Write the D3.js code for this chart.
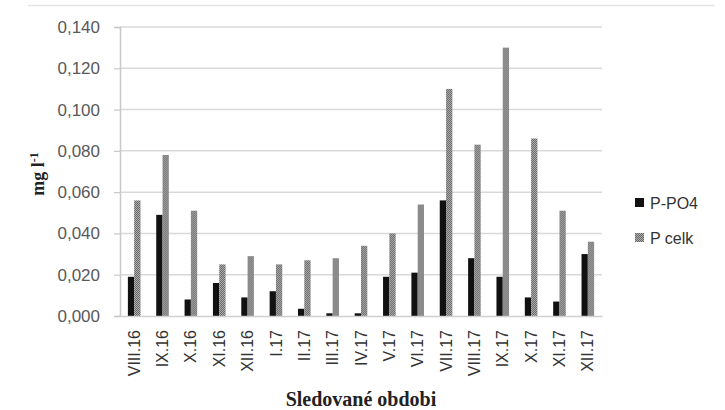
<!DOCTYPE html>
<html>
<head>
<meta charset="utf-8">
<script src="https://cdn.jsdelivr.net/npm/d3@7/dist/d3.min.js"></script>
<style>
  html, body { margin: 0; padding: 0; background: #fff; }
  svg { display: block; }
</style>
</head>
<body>
<svg id="chart" width="725" height="410"></svg>
<script>
// Monitored periods (months)
const categories = ["VIII.16","IX.16","X.16","XI.16","XII.16","I.17","II.17","III.17","IV.17","V.17","VI.17","VII.17","VIII.17","IX.17","X.17","XI.17","XII.17"];
// Phosphate phosphorus, mg/l
const pPO4 = [0.019,0.049,0.008,0.016,0.009,0.012,0.0035,0.0013,0.0013,0.019,0.021,0.056,0.028,0.019,0.009,0.007,0.030];
// Total phosphorus, mg/l
const pCelk = [0.056,0.078,0.051,0.025,0.029,0.025,0.027,0.028,0.034,0.040,0.054,0.110,0.083,0.130,0.086,0.051,0.036];
const seriesNames = ["P-PO4", "P celk"];
const yTicks = [0, 0.02, 0.04, 0.06, 0.08, 0.10, 0.12, 0.14];

const svg = d3.select("#chart");
const margin = {left: 120, right: 123, top: 27, bottom: 94};
const W = 725, H = 410;
const x0 = margin.left, x1 = W - margin.right;
const yTop = margin.top, yBot = H - margin.bottom;
const sans = "'Liberation Sans', Arial, sans-serif";
const serif = "'Liberation Serif', 'Times New Roman', serif";

// Checkered fill for the total phosphorus bars
const defs = svg.append("defs");
const pat = defs.append("pattern").attr("id", "checker")
  .attr("patternUnits", "userSpaceOnUse").attr("width", 2).attr("height", 2);
pat.append("rect").attr("width", 2).attr("height", 2).attr("fill", "#b0b0b0");
pat.append("rect").attr("width", 1).attr("height", 1).attr("fill", "#666");
pat.append("rect").attr("x", 1).attr("y", 1).attr("width", 1).attr("height", 1).attr("fill", "#666");

// Chart area top border
svg.append("line").attr("x1", 28).attr("x2", 715).attr("y1", 5.5).attr("y2", 5.5)
  .attr("stroke", "#e6e6e6").attr("stroke-width", 1.5);

const x = d3.scaleBand().domain(categories).range([x0, x1]).paddingInner(0).paddingOuter(0);
const xs = d3.scaleBand().domain(seriesNames).range([0, x.bandwidth()]).paddingInner(0).paddingOuter(1.25);
const y = d3.scaleLinear().domain([0, 0.14]).range([yBot, yTop]);

const fmt = v => d3.format(".3f")(v).replace(".", ",");

// Gridlines
svg.append("g").selectAll("line").data(yTicks.slice(1)).join("line")
  .attr("x1", x0).attr("x2", x1)
  .attr("y1", d => y(d)).attr("y2", d => y(d))
  .attr("stroke", "#d9d9d9").attr("stroke-width", 1.5);

// Y axis
const yAxis = svg.append("g").attr("transform", `translate(${x0},0)`)
  .call(d3.axisLeft(y).tickValues(yTicks).tickFormat(fmt).tickSize(6).tickPadding(14));
yAxis.select(".domain").attr("stroke", "#c8c8c8").attr("stroke-width", 1.5);
yAxis.selectAll(".tick line").attr("stroke", "#c8c8c8").attr("stroke-width", 1.2);
yAxis.selectAll("text").attr("fill", "#595959")
  .style("font-family", sans).style("font-size", "17px");

// Bars
const groups = svg.append("g").selectAll("g").data(categories).join("g")
  .attr("transform", d => `translate(${x(d)},0)`);
groups.append("rect")
  .attr("x", xs("P-PO4")).attr("width", xs.bandwidth())
  .attr("y", (d, i) => y(pPO4[i])).attr("height", (d, i) => yBot - y(pPO4[i]))
  .attr("fill", "#111");
groups.append("rect")
  .attr("x", xs("P celk")).attr("width", xs.bandwidth())
  .attr("y", (d, i) => y(pCelk[i])).attr("height", (d, i) => yBot - y(pCelk[i]))
  .attr("fill", "url(#checker)");

// X axis baseline and labels
const xAxis = svg.append("g").attr("transform", `translate(0,${yBot})`)
  .call(d3.axisBottom(x).tickSize(0).tickPadding(0));
xAxis.select(".domain").attr("stroke", "#d0d0d0").attr("stroke-width", 1.5);
xAxis.selectAll("text")
  .attr("transform", "rotate(-90)")
  .attr("x", -14).attr("y", 0).attr("dy", "0.35em")
  .attr("text-anchor", "end")
  .attr("fill", "#333")
  .style("font-family", sans).style("font-size", "16px");

// Axis titles
const yTitle = svg.append("text")
  .attr("transform", "translate(44,174) rotate(-90)")
  .attr("text-anchor", "middle")
  .style("font-family", serif)
  .style("font-size", "18px").style("font-weight", "bold").attr("fill", "#222");
yTitle.append("tspan").text("mg l");
yTitle.append("tspan").attr("dy", -6).style("font-size", "12px").text("-1");

svg.append("text").attr("x", 361).attr("y", 406).attr("text-anchor", "middle")
  .style("font-family", serif)
  .style("font-size", "20px").style("font-weight", "bold").attr("fill", "#222")
  .text("Sledované obdobi");

// Legend
const legend = svg.append("g").selectAll("g").data(seriesNames).join("g")
  .attr("transform", (d, i) => `translate(635,${198 + i * 35})`);
legend.append("rect").attr("width", 9).attr("height", 9)
  .attr("fill", (d, i) => i === 0 ? "#111" : "url(#checker)");
legend.append("text").attr("x", 15).attr("y", 5).attr("dy", "0.35em")
  .style("font-family", sans).style("font-size", "16px")
  .attr("fill", "#333").text(d => d);
</script>
</body>
</html>
